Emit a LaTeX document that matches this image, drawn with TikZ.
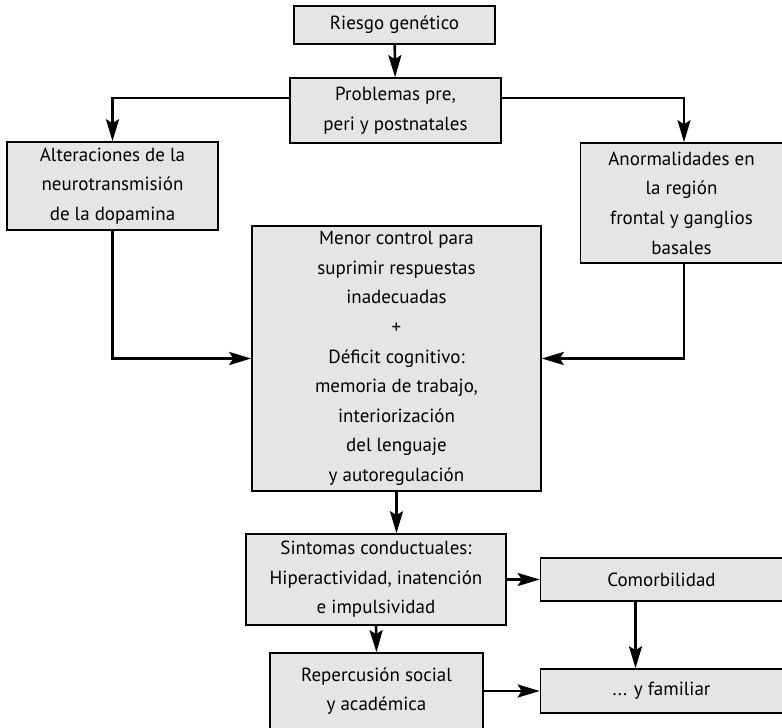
\documentclass[tikz,border=0pt]{standalone}
\usepackage{fontspec}
\setmainfont{PT Sans}
\usetikzlibrary{arrows.meta}
\tikzset{
  caja/.style={draw, fill=gray!20, line width=0.8pt, align=center, inner sep=0pt,
    font=\fontsize{9.5}{14.8}\selectfont},
  flecha/.style={line width=1.3pt, -{Stealth[length=11pt,width=6.5pt,inset=2pt]}}
}
\begin{document}
\begin{tikzpicture}[x=0.5pt,y=-0.5pt]
  \useasboundingbox (0,0) rectangle (782,728);
  % cajas
  \node[caja, minimum width=100.5pt, minimum height=19pt] (riesgo) at (394.5,25) {Riesgo genético};
  \node[caja, minimum width=105.5pt, minimum height=32.5pt] (problemas) at (395.5,110.5) {Problemas pre,\\peri y postnatales};
  \node[caja, minimum width=105.5pt, minimum height=44pt] (alteraciones) at (112.5,186) {Alteraciones de la\\neurotransmisión\\de la dopamina};
  \node[caja, minimum width=101pt, minimum height=60pt] (anormalidades) at (681.5,203) {Anormalidades en\\la región\\frontal y ganglios\\basales};
  \node[caja, minimum width=144.5pt, minimum height=132.5pt] (menor) at (396.5,358.5) {Menor control para\\suprimir respuestas\\inadecuadas\\+\\Déficit cognitivo:\\memoria de trabajo,\\interiorización\\del lenguaje\\y autoregulación};
  \node[caja, minimum width=130pt, minimum height=45.5pt] (sintomas) at (376,579.5) {Sintomas conductuales:\\Hiperactividad, inatención\\e impulsividad};
  \node[caja, minimum width=121pt, minimum height=21.5pt] (comorbilidad) at (661.5,579.5) {Comorbilidad};
  \node[caja, minimum width=106.5pt, minimum height=38pt] (repercusion) at (376.5,691) {Repercusión social\\y académica};
  \node[caja, minimum width=121pt, minimum height=22pt] (familiar) at (661.5,691) {... y familiar};
  % flechas
  \draw[flecha] (riesgo) -- (problemas);
  \draw[flecha] ([yshift=6.25pt]problemas.west) -| (alteraciones.north);
  \draw[flecha] ([yshift=6.25pt]problemas.east) -| ([xshift=1.25pt]anormalidades.north);
  \draw[flecha] (alteraciones.south) |- (menor.west);
  \draw[flecha] ([xshift=1.25pt]anormalidades.south) |- (menor.east);
  \draw[flecha] (menor.south) -- (menor.south |- sintomas.north);
  \draw[flecha] (sintomas.east) -- (comorbilidad.west);
  \draw[flecha] (sintomas.south) -- (repercusion.north);
  \draw[flecha] ([xshift=-13pt]comorbilidad.south) -- ([xshift=-13pt]familiar.north);
  \draw[flecha] (repercusion.east) -- (familiar.west);
\end{tikzpicture}
\end{document}
